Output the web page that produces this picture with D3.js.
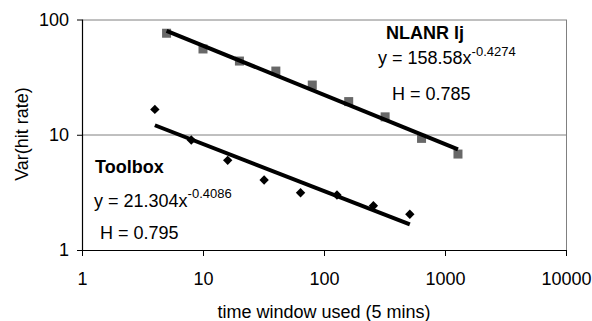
<!DOCTYPE html>
<html>
<head>
<meta charset="utf-8">
<script src="https://cdn.jsdelivr.net/npm/d3@7"></script>
<style>
  body { margin: 0; background: #fff; }
  text { font-family: "Liberation Sans", Arial, sans-serif; fill: #000; }
</style>
</head>
<body>
<div id="wrapper"></div>
<script>
// time windows (x) and variances (y)
const nlanrX = [5, 10, 20, 40, 80, 160, 320, 640, 1280]
const nlanrY = [76, 55.5, 43.6, 35.7, 27.0, 19.4, 14.3, 9.3, 6.8]
const toolboxX = [4, 8, 16, 32, 64, 128, 256, 512]
const toolboxY = [16.6, 9.0, 6.0, 4.05, 3.14, 3.0, 2.42, 2.04]

// power trendlines, y = a * x^b
const nlanrFit = [158.58, -0.4274]
const toolboxFit = [21.304, -0.4086]

const xTicks = [1, 10, 100, 1000, 10000]
const yTicks = [1, 10, 100]

function drawChart() {
  let dimensions = {
    width: 592,
    height: 321,
    margin: { top: 19.5, right: 26, bottom: 71, left: 82 },
  }
  dimensions.boundedWidth = dimensions.width - dimensions.margin.left - dimensions.margin.right
  dimensions.boundedHeight = dimensions.height - dimensions.margin.top - dimensions.margin.bottom

  const wrapper = d3.select("#wrapper")
    .append("svg")
      .attr("width", dimensions.width)
      .attr("height", dimensions.height)

  const bounds = wrapper.append("g")
    .attr("transform", `translate(${dimensions.margin.left},${dimensions.margin.top})`)

  const xScale = d3.scaleLog()
    .domain([1, 10000])
    .range([0, dimensions.boundedWidth])

  const yScale = d3.scaleLog()
    .domain([1, 100])
    .range([dimensions.boundedHeight, 0])

  // gridlines + plot border
  bounds.append("g")
    .selectAll("line")
    .data(yTicks.slice(1))
    .join("line")
      .attr("x1", 0)
      .attr("x2", dimensions.boundedWidth)
      .attr("y1", d => Math.round(yScale(d)) + 0.5)
      .attr("y2", d => Math.round(yScale(d)) + 0.5)
      .attr("stroke", "#808080")
      .attr("stroke-width", 1)

  bounds.append("line")
    .attr("x1", dimensions.boundedWidth + 0.5)
    .attr("x2", dimensions.boundedWidth + 0.5)
    .attr("y1", 0)
    .attr("y2", dimensions.boundedHeight)
    .attr("stroke", "#808080")

  // axes
  const yAxis = bounds.append("g")
    .call(d3.axisLeft(yScale).tickValues(yTicks).tickFormat(d3.format("d")).tickSize(5).tickPadding(8))
  const xAxis = bounds.append("g")
    .attr("transform", `translate(0,${dimensions.boundedHeight})`)
    .call(d3.axisBottom(xScale).tickValues(xTicks).tickFormat(d3.format("d")).tickSize(6).tickPadding(16))

  for (const ax of [xAxis, yAxis]) {
    ax.select(".domain").attr("stroke", "#000").attr("stroke-width", 1.2)
    ax.selectAll(".tick line").attr("stroke", "#000")
    ax.selectAll(".tick text")
      .attr("font-family", "Liberation Sans, Arial, sans-serif")
      .attr("font-size", 18)
      .attr("fill", "#000")
  }
  yAxis.select(".domain").attr("d", `M0.5,${dimensions.boundedHeight}V0`)
  xAxis.select(".domain").attr("d", `M0,0.5H${dimensions.boundedWidth}`)

  // markers
  const nlanr = nlanrX.map((x, i) => ({ x, y: nlanrY[i] }))
  const toolbox = toolboxX.map((x, i) => ({ x, y: toolboxY[i] }))

  bounds.append("g")
    .selectAll("rect")
    .data(nlanr)
    .join("rect")
      .attr("x", d => xScale(d.x) - 4.5)
      .attr("y", d => yScale(d.y) - 4.5)
      .attr("width", 9)
      .attr("height", 9)
      .attr("fill", "#686868")

  bounds.append("g")
    .selectAll("path")
    .data(toolbox)
    .join("path")
      .attr("d", d3.symbol().type(d3.symbolSquare).size(44))
      .attr("transform", d => `translate(${xScale(d.x)},${yScale(d.y)}) rotate(45)`)
      .attr("fill", "#000")

  // trendlines, drawn between the first and last x of each series
  const trend = (xs, fit) => {
    const ends = [xs[0], xs[xs.length - 1]]
    return d3.line()
      .x(d => xScale(d))
      .y(d => yScale(fit[0] * Math.pow(d, fit[1])))(ends)
  }

  bounds.append("path")
    .attr("d", trend(nlanrX, nlanrFit))
    .attr("fill", "none")
    .attr("stroke", "#000")
    .attr("stroke-width", 4)

  bounds.append("path")
    .attr("d", trend(toolboxX, toolboxFit))
    .attr("fill", "none")
    .attr("stroke", "#000")
    .attr("stroke-width", 4)

  // annotations
  const svg = wrapper
  svg.append("text")
    .attr("x", 386).attr("y", 39)
    .attr("font-size", 18).attr("font-weight", "bold")
    .text("NLANR lj")

  const eq1 = svg.append("text").attr("x", 378).attr("y", 64).attr("font-size", 18)
  eq1.append("tspan").text("y = 158.58x")
  eq1.append("tspan").attr("font-size", 13).attr("dy", -8).text("-0.4274")

  svg.append("text")
    .attr("x", 392).attr("y", 100)
    .attr("font-size", 18)
    .text("H = 0.785")

  svg.append("text")
    .attr("x", 95).attr("y", 173)
    .attr("font-size", 18).attr("font-weight", "bold")
    .text("Toolbox")

  const eq2 = svg.append("text").attr("x", 94).attr("y", 207).attr("font-size", 18)
  eq2.append("tspan").text("y = 21.304x")
  eq2.append("tspan").attr("font-size", 13).attr("dy", -9).text("-0.4086")

  svg.append("text")
    .attr("x", 100).attr("y", 239)
    .attr("font-size", 18)
    .text("H = 0.795")

  // axis titles
  svg.append("text")
    .attr("x", 324).attr("y", 318)
    .attr("text-anchor", "middle")
    .attr("font-size", 18)
    .text("time window used (5 mins)")

  svg.append("text")
    .attr("transform", "translate(28,134) rotate(-90)")
    .attr("text-anchor", "middle")
    .attr("font-size", 18)
    .text("Var(hit rate)")
}

drawChart()
</script>
</body>
</html>
